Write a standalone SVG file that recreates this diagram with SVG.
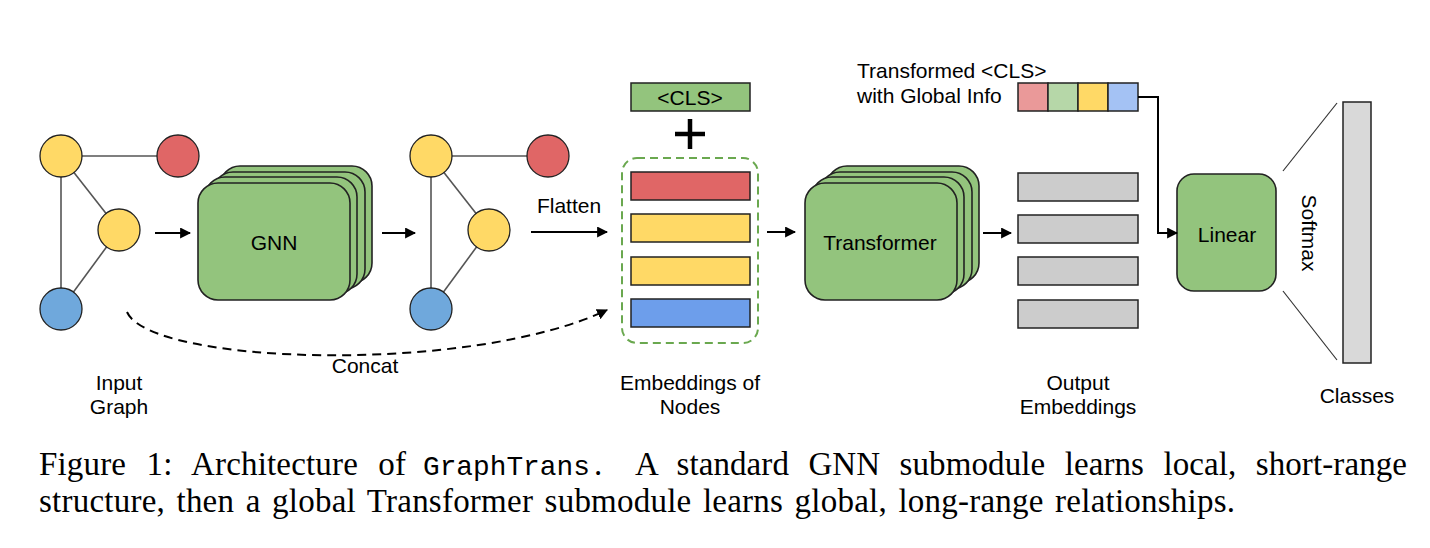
<svg xmlns="http://www.w3.org/2000/svg" width="1430" height="548" viewBox="0 0 1430 548">
<style>
.t{font-family:"Liberation Sans",Arial,sans-serif;font-size:21px;fill:#000}
.c{font-family:"Liberation Serif","Times New Roman",serif;font-size:33px;fill:#000}
.m{font-family:"Liberation Mono","Courier New",monospace;font-size:27.8px;fill:#000}
.edge{stroke:#555;stroke-width:1.6;fill:none}
.node{stroke:#222;stroke-width:1.3}
.card{fill:#93c47d;stroke:#222;stroke-width:1.6}
.bar{stroke:#222;stroke-width:1.5}
.arr{stroke:#000;stroke-width:2;fill:none;marker-end:url(#ah)}
</style>
<defs>
<marker id="ah" viewBox="0 0 10 10" refX="9" refY="5" markerWidth="5.5" markerHeight="5.5" orient="auto" markerUnits="strokeWidth">
<path d="M0,0 L10,5 L0,10 z" fill="#000"/>
</marker>
</defs>
<rect width="1430" height="548" fill="#fff"/>

<g id="input-graph">
<line class="edge" x1="61" y1="156" x2="178" y2="156"/>
<line class="edge" x1="61" y1="156" x2="61" y2="309"/>
<line class="edge" x1="61" y1="156" x2="119" y2="230"/>
<line class="edge" x1="119" y1="230" x2="61" y2="309"/>
<circle class="node" cx="61" cy="156" r="21" fill="#ffd966"/>
<circle class="node" cx="178" cy="156" r="21" fill="#e06666"/>
<circle class="node" cx="119" cy="230" r="21" fill="#ffd966"/>
<circle class="node" cx="61" cy="309" r="21" fill="#6fa8dc"/>
<text class="t" x="119" y="390" text-anchor="middle">Input</text>
<text class="t" x="119" y="414" text-anchor="middle">Graph</text>
</g>

<g id="gnn">
<rect class="card" x="220" y="166" width="152" height="117" rx="20"/>
<rect class="card" x="213" y="172" width="152" height="117" rx="20"/>
<rect class="card" x="205" y="177" width="152" height="117" rx="20"/>
<rect class="card" x="198" y="183" width="152" height="117" rx="20"/>
<text class="t" x="274" y="250" text-anchor="middle">GNN</text>
</g>

<g id="output-graph">
<line class="edge" x1="431" y1="156" x2="548" y2="156"/>
<line class="edge" x1="431" y1="156" x2="431" y2="309"/>
<line class="edge" x1="431" y1="156" x2="489" y2="230"/>
<line class="edge" x1="489" y1="230" x2="431" y2="309"/>
<circle class="node" cx="431" cy="156" r="21" fill="#ffd966"/>
<circle class="node" cx="548" cy="156" r="21" fill="#e06666"/>
<circle class="node" cx="489" cy="230" r="21" fill="#ffd966"/>
<circle class="node" cx="431" cy="309" r="21" fill="#6fa8dc"/>
</g>

<g id="cls-token">
<rect class="bar" x="631" y="83" width="119" height="28" fill="#93c47d"/>
<text class="t" x="690" y="105" text-anchor="middle">&lt;CLS&gt;</text>
<path d="M675,134 H705 M690,119 V149" stroke="#000" stroke-width="4.5" fill="none"/>
</g>

<g id="node-embeddings">
<rect x="622" y="158" width="136" height="185" rx="15" fill="none" stroke="#6aa84f" stroke-width="2" stroke-dasharray="8,5"/>
<rect class="bar" x="631" y="172" width="119" height="28" fill="#e06666"/>
<rect class="bar" x="631" y="214" width="119" height="28" fill="#ffd966"/>
<rect class="bar" x="631" y="257" width="119" height="28" fill="#ffd966"/>
<rect class="bar" x="631" y="299" width="119" height="28" fill="#6d9eeb"/>
<text class="t" x="690" y="390" text-anchor="middle">Embeddings of</text>
<text class="t" x="690" y="414" text-anchor="middle">Nodes</text>
</g>

<g id="transformer">
<rect class="card" x="827" y="166" width="152" height="117" rx="20"/>
<rect class="card" x="820" y="172" width="152" height="117" rx="20"/>
<rect class="card" x="812" y="177" width="152" height="117" rx="20"/>
<rect class="card" x="805" y="183" width="152" height="117" rx="20"/>
<text class="t" x="880" y="250" text-anchor="middle">Transformer</text>
</g>

<g id="output-embeddings">
<rect class="bar" x="1018" y="173" width="120" height="28" fill="#cccccc"/>
<rect class="bar" x="1018" y="215" width="120" height="28" fill="#cccccc"/>
<rect class="bar" x="1018" y="257" width="120" height="28" fill="#cccccc"/>
<rect class="bar" x="1018" y="300" width="120" height="28" fill="#cccccc"/>
<text class="t" x="1078" y="390" text-anchor="middle">Output</text>
<text class="t" x="1078" y="414" text-anchor="middle">Embeddings</text>
</g>

<g id="transformed-cls">
<rect class="bar" x="1018" y="83" width="30" height="28" fill="#ea9999"/>
<rect class="bar" x="1048" y="83" width="30" height="28" fill="#b6d7a8"/>
<rect class="bar" x="1078" y="83" width="30" height="28" fill="#ffd966"/>
<rect class="bar" x="1108" y="83" width="30" height="28" fill="#a4c2f4"/>
<text class="t" x="857" y="78">Transformed &lt;CLS&gt;</text>
<text class="t" x="857" y="103">with Global Info</text>
</g>

<g id="linear">
<rect class="card" x="1177" y="174" width="99" height="117" rx="17"/>
<text class="t" x="1227" y="242" text-anchor="middle">Linear</text>
</g>

<g id="classes">
<line x1="1283" y1="171" x2="1337" y2="103" stroke="#333" stroke-width="1.2"/>
<line x1="1283" y1="291" x2="1337" y2="360" stroke="#333" stroke-width="1.2"/>
<rect class="bar" x="1343" y="102" width="28" height="261" fill="#d9d9d9"/>
<text class="t" transform="translate(1302,233) rotate(90)" text-anchor="middle">Softmax</text>
<text class="t" x="1357" y="403" text-anchor="middle">Classes</text>
</g>

<g id="connectors">
<line class="arr" x1="155" y1="233" x2="190" y2="233"/>
<line class="arr" x1="382" y1="233" x2="415" y2="233"/>
<line class="arr" x1="531" y1="232" x2="607" y2="232"/>
<text class="t" x="569" y="213" text-anchor="middle">Flatten</text>
<line class="arr" x1="767" y1="232" x2="795" y2="232"/>
<line class="arr" x1="983" y1="233" x2="1011" y2="233"/>
<path class="arr" d="M1138,97 H1158 V233 H1177"/>
<path class="arr" d="M127,312 C150,365 470,375 607,310" stroke-dasharray="9,6"/>
<text class="t" x="365" y="373" text-anchor="middle">Concat</text>
</g>

<g id="caption">
<text class="c" x="39" y="475" word-spacing="12" textLength="367" lengthAdjust="spacing">Figure 1: Architecture of</text>
<text class="m" x="423" y="475">GraphTrans</text>
<text class="c" x="594" y="475">.</text>
<text class="c" x="635" y="475" word-spacing="11" textLength="772" lengthAdjust="spacing">A standard GNN submodule learns local, short-range</text>
<text class="c" x="39" y="512" word-spacing="3" textLength="1196" lengthAdjust="spacing">structure, then a global Transformer submodule learns global, long-range relationships.</text>
</g>
</svg>
